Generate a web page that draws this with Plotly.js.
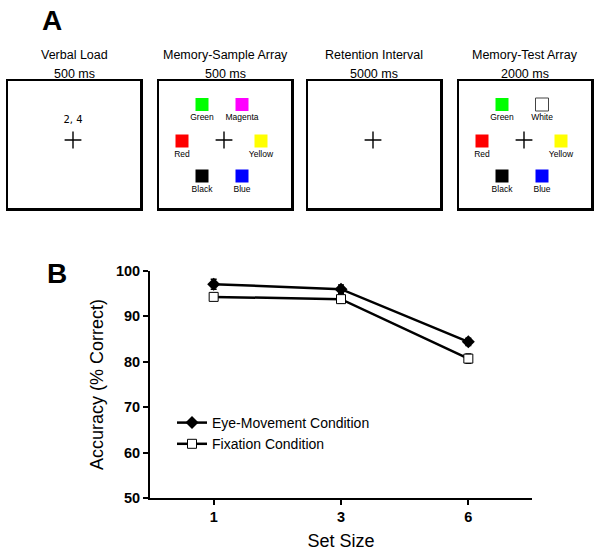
<!DOCTYPE html>
<html>
<head>
<meta charset="utf-8">
<script src="https://cdn.plot.ly/plotly-3.0.1.min.js"></script>
<style>html,body{margin:0;padding:0;background:#fff;}#chart{width:600px;height:556px;}</style>
</head>
<body>
<div id="chart"></div>
<script>
// ---------- Panel A data ----------
const frameTitles = ['Verbal Load', 'Memory-Sample Array', 'Retention Interval', 'Memory-Test Array'];
const frameDurations = ['500 ms', '500 ms', '5000 ms', '2000 ms'];
const verbalLoadDigits = '2, 4';
const sampleColorNames = ['Green', 'Magenta', 'Red', 'Yellow', 'Black', 'Blue'];
const sampleColorHex = ['#00ff00', '#ff00ff', '#ff0000', '#ffff00', '#000000', '#0000ff'];
const testColorNames = ['Green', 'White', 'Red', 'Yellow', 'Black', 'Blue'];
const testColorHex = ['#00ff00', '#ffffff', '#ff0000', '#ffff00', '#000000', '#0000ff'];

// ---------- Panel B data ----------
const setSizes = ['1', '3', '6'];
const eyeMovementAcc = [97.1, 96.0, 84.4];
const eyeMovementErr = [1.1, 0.9, 0.8];
const fixationAcc = [94.3, 93.8, 80.7];
const fixationErr = [0.7, 0.9, 1.0];

// ---------- Layout constants ----------
const W = 600, H = 556;
const FONT = 'Liberation Sans, Arial, Helvetica, sans-serif';
const px = v => v / W;
const py = v => 1 - v / H;
const frameLeft = [8, 159, 308, 459];
const frameW = 132, frameTop = 81, frameBottom = 208;
const frameH = frameBottom - frameTop;
// item slot positions inside a frame (frame-local units, origin top-left)
const slotX = [43, 83, 23, 102, 43, 83];
const slotY = [23.5, 23.5, 60, 60, 95, 95];
const fixX = 65, fixY = 59;

const traces = [];
const layout = {
  width: W, height: H,
  margin: {l: 0, r: 0, t: 0, b: 0},
  paper_bgcolor: '#fff', plot_bgcolor: 'rgba(0,0,0,0)',
  font: {family: FONT, color: '#000'},
  showlegend: true,
  annotations: [],
  legend: {
    x: px(172), y: py(407), xanchor: 'left', yanchor: 'top',
    bgcolor: 'rgba(0,0,0,0)', borderwidth: 0,
    font: {family: FONT, size: 14, color: '#000'},
    tracegroupgap: 0, itemwidth: 30
  }
};

// Panel A frames as subplots
for (let i = 0; i < 4; i++) {
  const n = i + 2;
  const xa = 'xaxis' + n, ya = 'yaxis' + n;
  layout[xa] = {
    domain: [px(frameLeft[i]), px(frameLeft[i] + frameW)], range: [0, frameW],
    anchor: 'y' + n, showline: true, mirror: true, linewidth: 2.5, linecolor: '#000',
    showgrid: false, zeroline: false, showticklabels: false, ticks: '', fixedrange: true
  };
  layout[ya] = {
    domain: [py(frameBottom), py(frameTop)], range: [frameH, 0],
    anchor: 'x' + n, showline: true, mirror: true, linewidth: 2.5, linecolor: '#000',
    showgrid: false, zeroline: false, showticklabels: false, ticks: '', fixedrange: true
  };
  layout.annotations.push({
    xref: 'x' + n + ' domain', yref: 'paper', x: 0.5, y: py(55),
    text: frameTitles[i], showarrow: false, xanchor: 'center', yanchor: 'middle',
    font: {family: FONT, size: 12.5, color: '#000'}
  });
  layout.annotations.push({
    xref: 'x' + n + ' domain', yref: 'paper', x: 0.5, y: py(74),
    text: frameDurations[i], showarrow: false, xanchor: 'center', yanchor: 'middle',
    font: {family: FONT, size: 12.5, color: '#000'}
  });
  // fixation cross
  traces.push({
    type: 'scatter', mode: 'markers', x: [fixX], y: [fixY], xaxis: 'x' + n, yaxis: 'y' + n,
    marker: {symbol: 'cross-thin', size: 12, line: {width: 1.4, color: '#000'}, color: '#000'},
    showlegend: false, hoverinfo: 'skip'
  });
  if (i === 0) {
    traces.push({
      type: 'scatter', mode: 'text', x: [fixX], y: [fixY - 20], xaxis: 'x2', yaxis: 'y2',
      text: [verbalLoadDigits], textfont: {family: 'DejaVu Sans', size: 10, color: '#000'},
      showlegend: false, hoverinfo: 'skip'
    });
  }
  if (i === 1 || i === 3) {
    const names = i === 1 ? sampleColorNames : testColorNames;
    const hex = i === 1 ? sampleColorHex : testColorHex;
    traces.push({
      type: 'scatter', mode: 'markers+text', x: slotX, y: slotY, xaxis: 'x' + n, yaxis: 'y' + n,
      text: names, textposition: 'bottom center',
      textfont: {family: FONT, size: 8.5, color: '#000'},
      marker: {symbol: 'square', size: 13, color: hex,
               line: {width: hex.map(c => c === '#ffffff' ? 1 : 0), color: '#444'}},
      showlegend: false, hoverinfo: 'skip', cliponaxis: false
    });
  }
}

// Panel labels
layout.annotations.push({xref: 'paper', yref: 'paper', x: px(52), y: py(20), text: '<b>A</b>',
  showarrow: false, xanchor: 'center', yanchor: 'middle', font: {family: FONT, size: 28, color: '#000'}});
layout.annotations.push({xref: 'paper', yref: 'paper', x: px(57), y: py(273), text: '<b>B</b>',
  showarrow: false, xanchor: 'center', yanchor: 'middle', font: {family: FONT, size: 28, color: '#000'}});

// Panel B
layout.xaxis = {
  domain: [px(150), px(532)], anchor: 'y', type: 'category', range: [-0.5, 2.5],
  showline: true, linewidth: 2, linecolor: '#000', ticks: 'outside', ticklen: 5, tickwidth: 2,
  tickcolor: '#000', showgrid: false, zeroline: false,
  tickfont: {family: FONT, size: 14.5, weight: 'bold', color: '#000'},
  title: {text: 'Set Size', font: {family: FONT, size: 18, color: '#000'}, standoff: 10},
  fixedrange: true
};
layout.yaxis = {
  domain: [py(498), py(271)], anchor: 'x', range: [50, 100], dtick: 10, tick0: 50,
  showline: true, linewidth: 2, linecolor: '#000', ticks: 'outside', ticklen: 5, tickwidth: 2,
  tickcolor: '#000', showgrid: false, zeroline: false,
  tickfont: {family: FONT, size: 14.5, weight: 'bold', color: '#000'},
  title: {text: 'Accuracy (% Correct)', font: {family: FONT, size: 18, color: '#000'}, standoff: 8},
  fixedrange: true
};

traces.push({
  type: 'scatter', mode: 'lines+markers', name: 'Eye-Movement Condition',
  x: setSizes, y: eyeMovementAcc, xaxis: 'x', yaxis: 'y',
  error_y: {type: 'data', array: eyeMovementErr, visible: true, color: '#000', thickness: 1.5, width: 3},
  line: {color: '#000', width: 2.5},
  marker: {symbol: 'diamond', size: 10, color: '#000'}
});
traces.push({
  type: 'scatter', mode: 'lines+markers', name: 'Fixation Condition',
  x: setSizes, y: fixationAcc, xaxis: 'x', yaxis: 'y',
  error_y: {type: 'data', array: fixationErr, visible: true, color: '#000', thickness: 1.5, width: 3},
  line: {color: '#000', width: 2.5},
  marker: {symbol: 'square', size: 9, color: '#fff', line: {color: '#000', width: 1}}
});

Plotly.newPlot('chart', traces, layout, {displayModeBar: false, staticPlot: true});
</script>
</body>
</html>
